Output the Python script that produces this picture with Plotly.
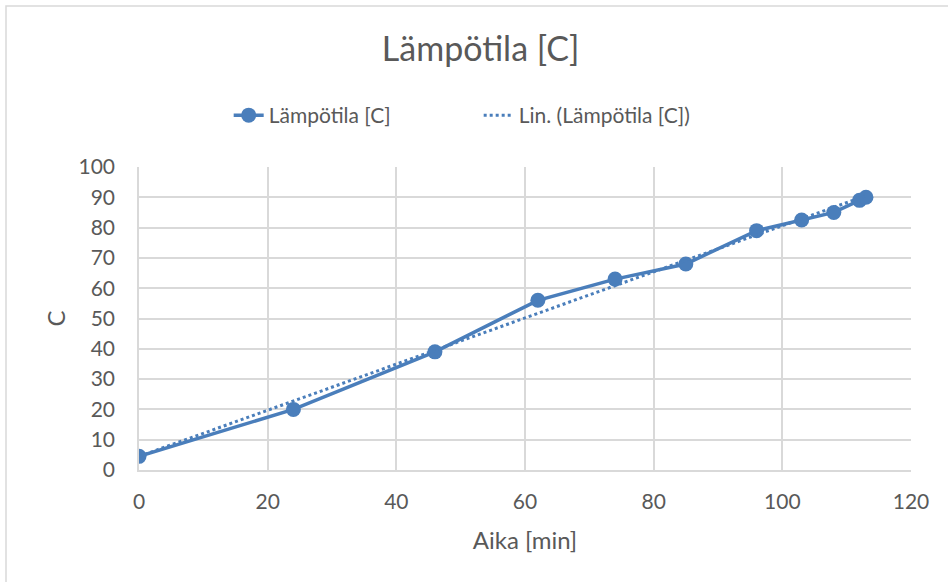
import numpy as np
import plotly.graph_objects as go

# Measured temperature over time
aika_min = [0, 24, 46, 62, 74, 85, 96, 103, 108, 112, 113]
lampotila_c = [4.5, 20, 39, 56, 63, 68, 79, 82.5, 85, 89, 90]

x_ticks = [0, 20, 40, 60, 80, 100, 120]
y_ticks = [0, 10, 20, 30, 40, 50, 60, 70, 80, 90, 100]

LINE = "#4a7ebb"
TEXT = "#595959"
GRID = "#d9d9d9"
FONT = "Lato, 'Open Sans', sans-serif"

# Least-squares linear trend over the measured span
slope, intercept = np.polyfit(aika_min, lampotila_c, 1)
trend_x = [min(aika_min), max(aika_min)]
trend_y = [slope * v + intercept for v in trend_x]

fig = go.Figure()
fig.add_trace(go.Scatter(
    x=aika_min, y=lampotila_c, mode="lines+markers",
    name="Lämpötila [C]",
    line=dict(color=LINE, width=3.5),
    marker=dict(color=LINE, size=15),
))
fig.add_trace(go.Scatter(
    x=trend_x, y=trend_y, mode="lines",
    name="Lin. (Lämpötila [C])",
    line=dict(color=LINE, width=3, dash="dot"),
))

PW, PH = 772, 303  # plot area size in pixels

fig.update_layout(
    width=948, height=582,
    margin=dict(l=139, r=37, t=167, b=112),
    paper_bgcolor="white", plot_bgcolor="white",
    font=dict(family=FONT, color=TEXT, size=21),
    title=dict(text="Lämpötila [C]", x=0.507, xanchor="center",
               y=0.915, yanchor="middle",
               font=dict(size=34, color=TEXT, family=FONT)),
    legend=dict(orientation="h", x=0.44, xanchor="center",
                y=1.17, yanchor="middle",
                font=dict(size=21, color=TEXT),
                entrywidth=205, entrywidthmode="pixels",
                traceorder="normal"),
    xaxis=dict(range=[0, 120], tickvals=x_ticks, showgrid=True,
               gridcolor=GRID, gridwidth=1.5, zeroline=False,
               showline=True, linecolor=GRID, linewidth=1.5,
               ticks="", ticklabelstandoff=12,
               title=dict(text="Aika [min]", font=dict(size=24), standoff=20),
               tickfont=dict(size=21)),
    yaxis=dict(range=[0, 100], tickvals=y_ticks, showgrid=True,
               gridcolor=GRID, gridwidth=1.5, zeroline=False,
               showline=True, linecolor=GRID, linewidth=1.5,
               ticks="", ticklabelstandoff=18,
               title=dict(text="C", font=dict(size=24), standoff=6),
               tickfont=dict(size=21)),
    shapes=[dict(type="rect", xref="paper", yref="paper",
                 x0=-133/PW, x1=1 + 60/PW, y0=-130/PH, y1=1 + 161/PH,
                 line=dict(color=GRID, width=1.5), fillcolor="rgba(0,0,0,0)")],
)

fig.write_html("out.html")
